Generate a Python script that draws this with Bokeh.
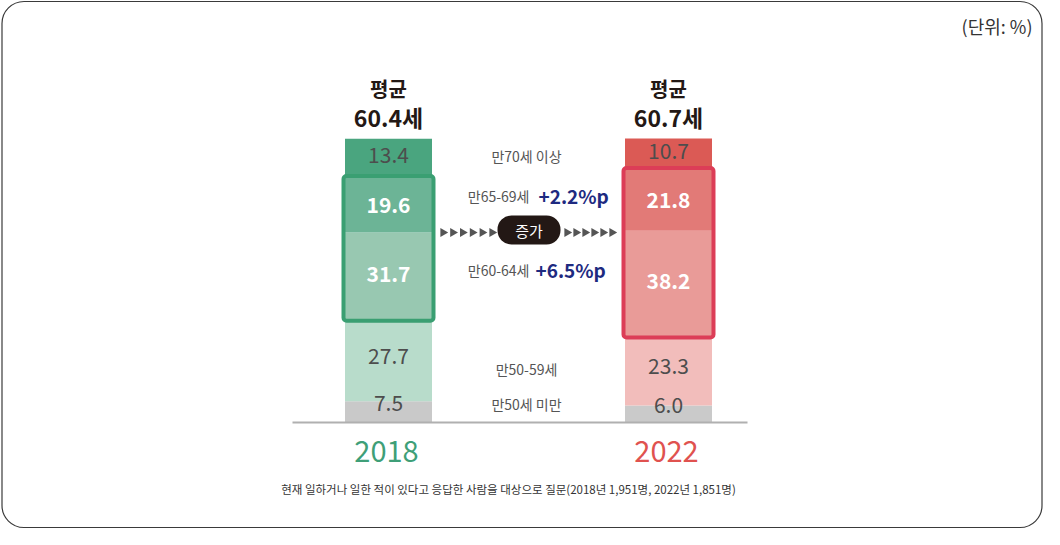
import numpy as np
from bokeh.plotting import figure
from bokeh.models import Range1d, BoxAnnotation, ColumnDataSource
from bokeh.core.properties import value
from bokeh.embed import file_html
from bokeh.resources import INLINE

# ---------------- data ----------------
years = ["2018", "2022"]
age_groups = ["만50세 미만", "만50-59세", "만60-64세", "만65-69세", "만70세 이상"]
share_2018 = [7.5, 27.7, 31.7, 19.6, 13.4]
share_2022 = [6.0, 23.3, 38.2, 21.8, 10.7]
avg_age = [60.4, 60.7]
increase_groups = ["만65-69세", "만60-64세"]
increase_values = ["+2.2%p", "+6.5%p"]
unit_label = "(단위: %)"
footnote = "현재 일하거나 일한 적이 있다고 응답한 사람을 대상으로 질문(2018년 1,951명, 2022년 1,851명)"

# ---------------- styles ----------------
colors_2018 = ["#c9c9c9", "#b8dccb", "#98c8b1", "#6cb496", "#4aa57f"]
colors_2022 = ["#cacaca", "#f2bdbb", "#e99b98", "#e27a77", "#db5a55"]
label_colors = ["#4d4d4d", "#4d4d4d", "#ffffff", "#ffffff", "#4d4d4d"]
label_styles = ["normal", "normal", "bold", "bold", "normal"]
label_offsets = [-9, -6, -4, 0, -3]
box_colors = ["#3a9f72", "#dc3d57"]
year_colors = ["#3f9f78", "#e0524f"]
FONT = value("Noto Sans CJK KR")

W, H = 1044, 529
OX, OY = 8, 8
BASE_PX = 430.0
PX_PER = 2.84


def yv(py):
    return (BASE_PX - py) / PX_PER


p = figure(width=W, height=H, x_range=Range1d(OX, OX + W),
           y_range=Range1d(yv(OY + H), yv(OY)),
           output_backend="svg", toolbar_location=None, min_border=0)
p.axis.visible = False
p.grid.visible = False
p.outline_line_color = None
p.background_fill_color = "white"

# outer rounded frame
p.add_layout(BoxAnnotation(left=OX + 1.5, right=OX + W - 2.5, top=yv(OY + 1), bottom=yv(OY + H - 2),
                           fill_alpha=0, line_color="#3a3a3a", line_alpha=1, line_width=1.2,
                           border_radius=22, level="underlay"))

bar_x = [396, 676]
bar_w = 87
shares = [share_2018, share_2022]
colors = [colors_2018, colors_2022]

for i, yr in enumerate(years):
    vals = np.array(shares[i])
    tops = np.cumsum(vals)
    bottoms = tops - vals
    src = ColumnDataSource(dict(
        x=[bar_x[i]] * len(vals), top=tops, bottom=bottoms,
        color=colors[i], mid=(tops + bottoms) / 2,
        label=[f"{v:.1f}" for v in vals],
        lc=label_colors, ls=label_styles,
    ))
    p.vbar(x="x", top="top", bottom="bottom", width=bar_w, fill_color="color",
           line_color=None, source=src)
    for k in range(len(vals)):
        p.text(x=[bar_x[i]], y=[src.data["mid"][k]], text=[src.data["label"][k]],
               text_color=label_colors[k], text_font_style=label_styles[k],
               text_font=FONT, text_font_size="21px", text_align="center",
               text_baseline="middle", y_offset=label_offsets[k])
    # highlight box around 60-64 and 65-69
    p.add_layout(BoxAnnotation(left=bar_x[i] - 45, right=bar_x[i] + 45,
                               bottom=bottoms[2] + 0.6, top=tops[3] + 0.3,
                               fill_alpha=0, line_color=box_colors[i], line_alpha=1,
                               line_width=4, border_radius=3))
    # average age header
    p.text(x=[bar_x[i]], y=[yv(96)], text=["평균"], text_font=FONT,
           text_font_style="bold", text_font_size="20px", text_color="#231815",
           text_align="center", text_baseline="middle")
    p.text(x=[bar_x[i]], y=[yv(124)], text=[f"{avg_age[i]:.1f}세"], text_font=FONT,
           text_font_style="bold", text_font_size="23px", text_color="#231815",
           text_align="center", text_baseline="middle")
    # year label
    p.text(x=[bar_x[i] - 2], y=[yv(459)], text=[yr], text_font=FONT,
           text_font_size="29px", text_color=year_colors[i],
           text_align="center", text_baseline="middle")

# baseline
p.line(x=[300, 755], y=[0, 0], line_color="#b0b0b0", line_width=2)

# middle category labels
mid_x = 534
p.text(x=[mid_x, mid_x, mid_x], y=[yv(163), yv(376), yv(411)],
       text=[age_groups[4], age_groups[1], age_groups[0]], text_font=FONT,
       text_font_size="14px", text_color="#555555", text_align="center",
       text_baseline="middle")
p.text(x=[537, 537], y=[yv(203), yv(277)], text=increase_groups, text_font=FONT,
       text_font_size="14px", text_color="#555555", text_align="right",
       text_baseline="middle")
p.text(x=[546, 543], y=[yv(203), yv(277)], text=increase_values, text_font=FONT,
       text_font_size="19px", text_font_style="bold", text_color="#1e2a80",
       text_align="left", text_baseline="middle")

# arrows & pill
tri_x = [450.5 + 9.8 * k for k in range(6)] + [574.5 + 9 * k for k in range(6)]
p.scatter(x=tri_x, y=[yv(240)] * len(tri_x), marker="triangle", angle=-np.pi / 2,
          size=9, fill_color="#555555", line_color=None)
p.add_layout(BoxAnnotation(left=505, right=568, top=yv(223), bottom=yv(252),
                           fill_color="#231815", fill_alpha=1, line_color=None,
                           border_radius=14, level="underlay"))
p.text(x=[536.5], y=[yv(238)], text=["증가"], text_font=FONT, text_font_size="15px",
       text_color="white", text_align="center", text_baseline="middle")

# unit label & footnote
p.text(x=[1040], y=[yv(33)], text=[unit_label], text_font=FONT, text_font_size="18px",
       text_color="#333333", text_align="right", text_baseline="middle")
p.text(x=[516], y=[yv(496)], text=[footnote], text_font=FONT, text_font_size="11.5px",
       text_color="#333333", text_align="center", text_baseline="middle")

open("out.html", "w").write(file_html(p, INLINE))
